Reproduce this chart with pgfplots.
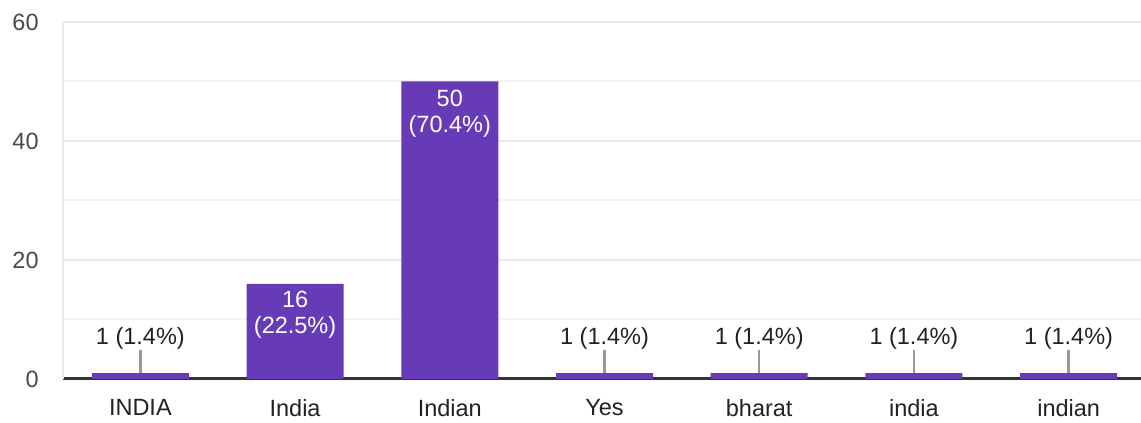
\documentclass[border=0pt]{standalone}
\usepackage{pgfplots}
\pgfplotsset{compat=1.18}
\usepackage{fontspec}
\setmainfont{Liberation Sans}
\usetikzlibrary{calc}

\definecolor{barpurple}{HTML}{673AB7}
\definecolor{gridmajor}{HTML}{EBEBEB}
\definecolor{gridminor}{HTML}{F4F4F4}
\definecolor{basegray}{HTML}{333333}
\definecolor{ticktext}{HTML}{4A4A4A}
\definecolor{leadergray}{HTML}{999999}
\definecolor{labeltext}{HTML}{222222}

\tikzset{lbl/.style={font=\fontsize{11.75}{14}\selectfont, inner sep=0pt}}

\begin{document}
\begin{tikzpicture}
  \begin{axis}[
      scale only axis,
      width=541.5pt,
      height=178.5pt,
      xmin=-0.5, xmax=6.5,
      ymin=0, ymax=60,
      xtick={0,1,2,3,4,5,6},
      xticklabels={INDIA,India,Indian,Yes,bharat,india,indian},
      ytick={0,20,40,60},
      minor ytick={10,30,50},
      major tick length=0pt,
      minor tick length=0pt,
      ymajorgrids,
      yminorgrids,
      major grid style={gridmajor, line width=1pt},
      minor grid style={gridminor, line width=1pt},
      axis x line*=bottom,
      axis y line*=left,
      x axis line style={basegray, line width=1.5pt, -},
      y axis line style={gridmajor, line width=1pt, -},
      /pgf/number format/assume math mode=true,
      tick label style={font=\fontsize{11.75}{14}\selectfont},
      yticklabel style={inner sep=0pt, anchor=east, xshift=-12pt, text=ticktext},
      xticklabel style={inner sep=0pt, anchor=north, yshift=-10pt, text=labeltext},
      clip=false,
    ]

    % counts per answer
    \addplot[ybar, bar width=48.5pt, bar shift=0pt, draw=none, fill=barpurple] coordinates {
      (0,1) (1,16) (2,50) (3,1) (4,1) (5,1) (6,1)
    };

    % leader lines for the small bars
    \addplot[draw=none, mark=none, forget plot,
      error bars/.cd, y dir=plus, y explicit, error mark=none,
      error bar style={leadergray, line width=1.2pt}] coordinates {
      (0,1) +- (0,3.9)
      (3,1) +- (0,3.9)
      (4,1) +- (0,3.9)
      (5,1) +- (0,3.9)
      (6,1) +- (0,3.9)
    };

    \coordinate (bl) at (rel axis cs:0,0);
    \coordinate (tr) at (rel axis cs:1,1);

    \node[lbl, text=labeltext] at (axis cs:0,6.9) {1 (1.4\%)};
    \node[lbl, text=labeltext] at (axis cs:3,6.9) {1 (1.4\%)};
    \node[lbl, text=labeltext] at (axis cs:4,6.9) {1 (1.4\%)};
    \node[lbl, text=labeltext] at (axis cs:5,6.9) {1 (1.4\%)};
    \node[lbl, text=labeltext] at (axis cs:6,6.9) {1 (1.4\%)};
    \node[lbl, text=white] at (axis cs:1,13.3) {16};
    \node[lbl, text=white] at (axis cs:1,8.6) {(22.5\%)};
    \node[lbl, text=white] at (axis cs:2,47.2) {50};
    \node[lbl, text=white] at (axis cs:2,42.4) {(70.4\%)};
  \end{axis}
  \pgfresetboundingbox
  \path ($(bl)+(-31.5pt,-22pt)$) rectangle ($(tr)+(-2.5pt,11pt)$);
\end{tikzpicture}
\end{document}
